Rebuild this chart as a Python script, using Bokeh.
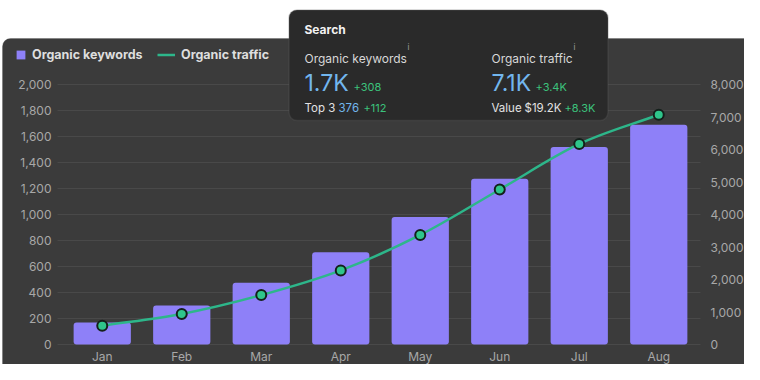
from bokeh.plotting import figure
from bokeh.models import (Range1d, LinearAxis, FixedTicker, NumeralTickFormatter,
                          ColumnDataSource, BoxAnnotation, Label, Legend, LegendItem)
from bokeh.embed import file_html
from bokeh.resources import INLINE

# ---------------- data ----------------
months = ["Jan", "Feb", "Mar", "Apr", "May", "Jun", "Jul", "Aug"]
organic_keywords = [170, 300, 475, 710, 980, 1275, 1520, 1690]
organic_traffic = [580, 940, 1520, 2280, 3370, 4770, 6170, 7070]
left_ticks = [0, 200, 400, 600, 800, 1000, 1200, 1400, 1600, 1800, 2000]
right_ticks = [0, 1000, 2000, 3000, 4000, 5000, 6000, 7000, 8000]

tip_title = "Search"
tip_kw_label = "Organic keywords"
tip_kw_value = "1.7K"
tip_kw_delta = "+308"
tip_top3_label = "Top 3"
tip_top3_value = "376"
tip_top3_delta = "+112"
tip_tr_label = "Organic traffic"
tip_tr_value = "7.1K"
tip_tr_delta = "+3.4K"
tip_val_label = "Value"
tip_val_value = "$19.2K"
tip_val_delta = "+8.3K"

# ---------------- style / layout ----------------
PANEL = "#3b3b3b"
GRID = "#494949"
TICK = "#a8a8a8"
BAR = "#8e80f8"
LINE = "#2db68a"
DOT = "#2fc58b"
DOT_EDGE = "#14201b"
TIP_BG = "#2a2a2a"
TIP_BORDER = "#5e5e5e"
BLUE = "#72b6ee"
GREEN = "#3cc27c"
FONT = "Inter"

W, H = 744, 364
SLOT_L, SLOT_W = 62.0, 79.5      # left edge of first category slot, slot width (px)
Y_ZERO, Y_TOP = 344.0, 84.0      # px of value 0 and of the top tick
LEFT_MAX, RIGHT_MAX = left_ticks[-1], right_ticks[-1]
ky = (Y_ZERO - Y_TOP) / LEFT_MAX  # px per left-axis unit


def cx(x):  # canvas px -> x data
    return (x - SLOT_L) / SLOT_W - 0.5


def ly(y):  # canvas px -> left-axis data
    return (Y_ZERO - y) / ky


n = len(months)
p = figure(width=W, height=H, x_range=Range1d(cx(0), cx(W)), y_range=Range1d(ly(H), ly(0)),
           output_backend="svg", toolbar_location=None, min_border=0,
           border_fill_color="white", background_fill_color="white", outline_line_color=None)
p.extra_y_ranges = {"traffic": Range1d(ly(H) * RIGHT_MAX / LEFT_MAX, ly(0) * RIGHT_MAX / LEFT_MAX)}
p.grid.visible = False
p.xaxis.visible = False
p.yaxis.visible = False

# dark panel
p.add_layout(BoxAnnotation(left=cx(2), right=cx(W + 60), top=ly(38), bottom=ly(H + 60),
                           fill_color=PANEL, fill_alpha=1, line_color="#4e4e4e",
                           line_width=1, border_radius=8, level="underlay"))

# axes
positions = list(range(n))
xa = LinearAxis(ticker=FixedTicker(ticks=positions), fixed_location=0,
                major_label_overrides={i: m for i, m in zip(positions, months)})
xa.major_label_standoff = 4
la = LinearAxis(ticker=FixedTicker(ticks=left_ticks), formatter=NumeralTickFormatter(format="0,0"),
                fixed_location=-0.5)
la.major_label_standoff = 11
ra = LinearAxis(y_range_name="traffic", ticker=FixedTicker(ticks=right_ticks),
                formatter=NumeralTickFormatter(format="0,0"), fixed_location=n - 0.5)
ra.major_label_standoff = 12
for ax in [xa, la, ra]:
    ax.axis_line_color = None
    ax.major_tick_line_color = None
    ax.minor_tick_line_color = None
    ax.major_tick_out = 0
    ax.major_tick_in = 0
    ax.minor_tick_out = 0
    ax.major_label_text_color = TICK
    ax.major_label_text_font = FONT
    ax.major_label_text_font_size = "12px"
p.add_layout(xa, "below")
p.add_layout(la, "left")
p.add_layout(ra, "right")

# grid lines at the left-axis ticks
p.segment(x0=cx(57), x1=cx(700), y0=left_ticks, y1=left_ticks, line_color=GRID, line_width=1)

src = ColumnDataSource(dict(pos=positions, month=months, keywords=organic_keywords,
                            traffic=organic_traffic))
bars = p.vbar(x="pos", top="keywords", width=0.72, source=src, fill_color=BAR,
              line_color=None, border_radius=3)

# smooth (monotone cubic) path through the traffic points
xs = positions
ys = organic_traffic
d = [ys[i + 1] - ys[i] for i in range(n - 1)]
m = [d[0]] + [((d[i - 1] + d[i]) / 2 if d[i - 1] * d[i] > 0 else 0) for i in range(1, n - 1)] + [d[-1]]
for i in range(n - 1):
    if d[i] == 0:
        m[i] = m[i + 1] = 0
        continue
    a, b = m[i] / d[i], m[i + 1] / d[i]
    s = a * a + b * b
    if s > 9:
        t = 3 / s ** 0.5
        m[i], m[i + 1] = t * a * d[i], t * b * d[i]
seg = ColumnDataSource(dict(
    x0=xs[:-1], y0=ys[:-1], x1=xs[1:], y1=ys[1:],
    cx0=[x + 1 / 3 for x in xs[:-1]], cy0=[ys[i] + m[i] / 3 for i in range(n - 1)],
    cx1=[x - 1 / 3 for x in xs[1:]], cy1=[ys[i + 1] - m[i + 1] / 3 for i in range(n - 1)]))
curve = p.bezier(x0="x0", y0="y0", x1="x1", y1="y1", cx0="cx0", cy0="cy0", cx1="cx1", cy1="cy1",
                 source=seg, line_color=LINE, line_width=2.5, y_range_name="traffic")
p.scatter(x="pos", y="traffic", source=src, size=10, fill_color=DOT, line_color=DOT_EDGE,
          line_width=2, y_range_name="traffic")

# legends
leg_style = dict(orientation="horizontal", glyph_height=11, label_height=11, padding=0,
                 spacing=0, margin=0, label_standoff=6, background_fill_alpha=0,
                 border_line_alpha=0, label_text_color="#dedede", label_text_font=FONT,
                 label_text_font_size="12.5px", label_text_font_style="bold")
leg1 = Legend(items=[LegendItem(label="Organic keywords", renderers=[bars])],
              location=(15, H - 62), glyph_width=11, **leg_style)
leg2 = Legend(items=[LegendItem(label="Organic traffic", renderers=[curve])],
              location=(157, H - 62), glyph_width=18, **leg_style)
p.add_layout(leg1, "center")
p.add_layout(leg2, "center")

# tooltip card
p.add_layout(BoxAnnotation(left=cx(288.5), right=cx(607.5), top=ly(9.5), bottom=ly(120),
                           fill_color=TIP_BG, fill_alpha=1, line_color=TIP_BORDER,
                           line_width=1.5, border_radius=8))


def lab(x, y, text, size, color, style="normal"):
    p.add_layout(Label(x=cx(x), y=ly(y), text=text, text_font=FONT, text_font_size=size,
                       text_color=color, text_font_style=style, text_baseline="middle",
                       text_align="left"))


lab(304, 29, tip_title, "12px", "#f2f2f2", "bold")
lab(304, 58, tip_kw_label, "12px", "#d8d8d8")
lab(407, 46, "i", "8px", "#a0a0a0")
lab(304, 82, tip_kw_value, "23px", BLUE)
lab(353, 86, tip_kw_delta, "11px", GREEN)
lab(304, 107, tip_top3_label, "11.5px", "#e2e2e2")
lab(338, 107, tip_top3_value, "11.5px", BLUE)
lab(363, 107, tip_top3_delta, "11px", GREEN)
lab(491, 58, tip_tr_label, "12px", "#d8d8d8")
lab(573, 46, "i", "8px", "#a0a0a0")
lab(491, 82, tip_tr_value, "23px", BLUE)
lab(535, 86, tip_tr_delta, "11px", GREEN)
lab(491, 107, tip_val_label, "11.5px", "#e2e2e2")
lab(524, 107, tip_val_value, "11.5px", "#e2e2e2")
lab(564, 107, tip_val_delta, "11px", GREEN)

open("out.html", "w").write(file_html(p, INLINE))
